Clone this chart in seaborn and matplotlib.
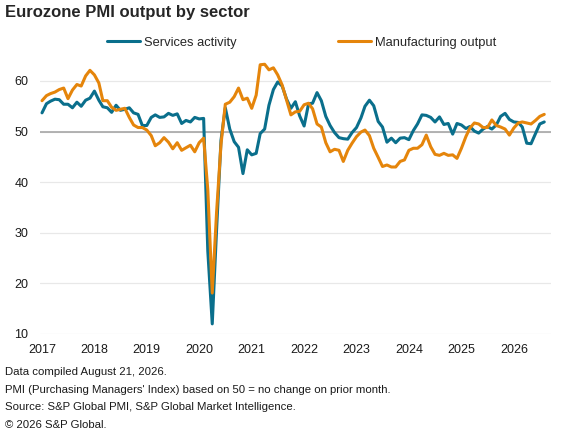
import pandas as pd
import numpy as np
import matplotlib
matplotlib.use("Agg")
import matplotlib.pyplot as plt
import seaborn as sns

# monthly readings, Jan 2017 - Aug 2026
services = [53.7, 55.5, 56.0, 56.4, 56.3, 55.4, 55.4, 54.7, 55.8, 55.0, 56.2, 56.6,
            58.0, 56.2, 54.9, 54.7, 53.8, 55.2, 54.2, 54.4, 54.7, 53.7, 53.4, 51.2,
            51.2, 52.8, 53.3, 52.8, 52.9, 53.6, 53.2, 53.5, 51.6, 52.2, 51.9, 52.8,
            52.5, 52.6, 26.4, 12.0, 30.5, 48.3, 54.7, 50.5, 48.0, 46.9, 41.7, 46.4,
            45.4, 45.7, 49.6, 50.5, 55.2, 58.3, 59.8, 59.0, 56.4, 54.6, 55.9, 53.1,
            51.1, 55.5, 55.6, 57.7, 56.1, 53.0, 51.2, 49.8, 48.8, 48.6, 48.5, 49.8,
            50.8, 52.7, 55.0, 56.2, 55.1, 52.0, 50.9, 47.9, 48.7, 47.8, 48.7, 48.8,
            48.4, 50.2, 51.5, 53.3, 53.2, 52.8, 51.9, 52.9, 51.4, 51.6, 49.5, 51.6,
            51.3, 50.6, 51.0, 50.1, 49.7, 50.5, 51.0, 50.5, 51.3, 53.0, 53.6, 52.4,
            51.9, 51.8, 50.9, 47.7, 47.6, 49.6, 51.5, 51.9]

manufacturing = [56.1, 57.1, 57.5, 57.8, 58.3, 58.6, 56.5, 58.2, 59.3, 59.0, 61.0, 62.1,
                 61.2, 59.6, 56.1, 56.1, 54.8, 54.2, 54.4, 54.6, 52.8, 51.3, 50.8, 50.8,
                 50.3, 49.2, 47.2, 47.8, 48.8, 47.9, 46.6, 47.8, 46.3, 46.8, 47.3, 46.0,
                 47.8, 48.7, 38.5, 18.1, 34.0, 47.5, 55.4, 55.8, 56.9, 58.6, 56.3, 56.6,
                 54.6, 57.2, 63.2, 63.3, 62.2, 62.6, 61.2, 59.2, 56.2, 53.3, 53.9, 54.0,
                 55.3, 55.6, 54.5, 51.5, 50.9, 47.8, 46.0, 46.5, 46.3, 44.1, 46.3, 47.7,
                 49.0, 49.9, 50.3, 49.2, 46.7, 44.9, 43.1, 43.4, 43.0, 43.0, 44.1, 44.4,
                 46.3, 46.7, 46.7, 47.4, 49.3, 47.0, 45.5, 45.3, 45.7, 45.3, 45.4, 44.7,
                 46.7, 49.0, 50.7, 51.7, 51.5, 50.8, 50.8, 52.3, 51.2, 50.9, 50.5, 49.3,
                 50.7, 51.7, 51.9, 51.7, 51.5, 52.2, 53.0, 53.4]

series_names = ["Services activity", "Manufacturing output"]
year_labels = [str(y) for y in range(2017, 2027)]
notes = ["Data compiled August 21, 2026.",
         "PMI (Purchasing Managers' Index) based on 50 = no change on prior month.",
         "Source: S&P Global PMI, S&P Global Market Intelligence.",
         "\u00a9 2026 S&P Global."]

dates = pd.date_range("2017-01-01", periods=len(services), freq="MS") + pd.Timedelta(days=14)
df = pd.DataFrame({"date": np.concatenate([dates, dates]),
                   "value": services + manufacturing,
                   "series": [series_names[0]] * len(services) + [series_names[1]] * len(manufacturing)})

sns.set_style("white")
plt.rcParams["font.family"] = ["Liberation Sans", "DejaVu Sans"]

fig = plt.figure(figsize=(5.64, 4.33), dpi=100)
ax = fig.add_axes([40 / 564, 1 - 334 / 433, 511 / 564, (334 - 50.6) / 433])

ax.axhline(50, color="#a6a6a6", lw=1.2, zorder=1)
sns.lineplot(data=df, x="date", y="value", hue="series", ax=ax,
             palette=["#0a6f8c", "#e5850b"], linewidth=2.2, zorder=3)

ax.set_xlim(pd.Timestamp("2017-01-01"), pd.Timestamp("2026-10-01"))
ax.set_ylim(10, 66)
ax.set_yticks([10, 20, 30, 40, 50, 60])
ax.set_xticks([pd.Timestamp(f"{y}-01-15") for y in range(2017, 2027)])
ax.set_xticklabels(year_labels)
ax.grid(axis="y", color="#e8e8e8", lw=0.9, zorder=0)
ax.grid(axis="x", visible=False)
ax.set_xlabel("")
ax.set_ylabel("")
ax.tick_params(axis="both", length=0, labelsize=9, colors="#1a1a1a")
ax.tick_params(axis="y", pad=8.5)
ax.tick_params(axis="x", pad=7)
sns.despine(ax=ax, left=True, bottom=True)

sns.move_legend(ax, "center left", bbox_to_anchor=(107 / 564, 1 - 43 / 433),
                bbox_transform=fig.transFigure, ncol=2, frameon=False, title=None,
                fontsize=9.3, handlelength=2.55, handletextpad=0.3, columnspacing=7.9,
                borderpad=0, borderaxespad=0)

fig.text(5 / 564, 1 - 12 / 433, "Eurozone PMI output by sector", fontsize=12,
         fontweight="bold", va="center", ha="left")
for i, t in enumerate(notes):
    fig.text(5 / 564, 1 - (372 + 17.7 * i) / 433, t, fontsize=8.2, va="center", ha="left",
             color="#1a1a1a")

fig.savefig("out.png", dpi=100)
